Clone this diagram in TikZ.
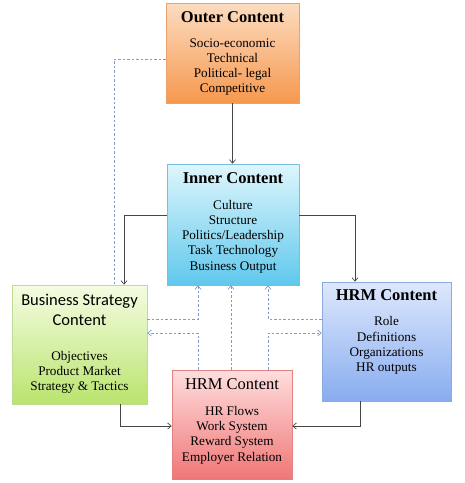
\documentclass[tikz,border=0pt]{standalone}
\usepackage{fontspec}
\setmainfont{Liberation Serif}
\newfontfamily\calfont{Carlito}
\usetikzlibrary{arrows.meta,shadows,calc}
\definecolor{outerT}{RGB}{252,220,192}
\definecolor{outerB}{RGB}{246,152,78}
\definecolor{outerD}{RGB}{236,160,110}
\definecolor{innerT}{RGB}{222,246,252}
\definecolor{innerB}{RGB}{96,200,236}
\definecolor{innerD}{RGB}{120,190,225}
\definecolor{bsT}{RGB}{244,252,226}
\definecolor{bsB}{RGB}{186,228,110}
\definecolor{bsD}{RGB}{190,220,150}
\definecolor{hrT}{RGB}{222,232,252}
\definecolor{hrB}{RGB}{136,172,240}
\definecolor{hrD}{RGB}{140,170,220}
\definecolor{hbT}{RGB}{255,222,222}
\definecolor{hbB}{RGB}{240,118,118}
\definecolor{hbD}{RGB}{225,130,130}
\definecolor{lineC}{RGB}{70,70,70}
\definecolor{dashC}{RGB}{125,155,205}
\begin{document}
\begin{tikzpicture}[x=1pt,y=-1pt,
  box/.style n args={3}{draw=#3, line width=0.6pt, shading=axis, top color=#1, bottom color=#2,
     drop shadow={opacity=0.25, shadow xshift=1pt, shadow yshift=-1pt}, inner sep=0pt},
  ttl/.style={font=\fontsize{16.5}{19}\selectfont\bfseries, align=center},
  ttlr/.style={font=\fontsize{16.5}{19}\selectfont, align=center},
  ttls/.style={font=\calfont\fontsize{16.5}{20}\selectfont, align=center},
  body/.style={font=\fontsize{13.2}{15.3}\selectfont, align=center},
  arr/.style={draw=lineC, line width=0.7pt, -{Straight Barb[length=3.5pt,width=6pt]}},
  dsh/.style={draw=dashC, line width=0.7pt, dash pattern=on 2.5pt off 2pt},
  darr/.style={dsh, -{Straight Barb[length=3.5pt,width=6pt]}}]
\useasboundingbox (0,0) rectangle (465,483);

\node[box={outerT}{outerB}{outerD}, minimum width=133pt, minimum height=100pt] (outer) at (232.5,53) {};
\node[box={innerT}{innerB}{innerD}, minimum width=132pt, minimum height=121pt] (inner) at (233,224.5) {};
\node[box={bsT}{bsB}{bsD}, minimum width=135pt, minimum height=119pt] (bs) at (79.5,344.5) {};
\node[box={hrT}{hrB}{hrD}, minimum width=129pt, minimum height=119pt] (hrmr) at (386.5,341.5) {};
\node[box={hbT}{hbB}{hbD}, minimum width=120pt, minimum height=109pt] (hrmb) at (232,424.5) {};

\node[ttl] (t1) at (232.5,17) {Outer Content};
\node[body] (b1) at (232.5,67) {Socio-economic\\Technical\\Political- legal\\Competitive};
\node[ttl] (t2) at (233,178) {Inner Content};
\node[body] (b2) at (233,236.5) {Culture\\Structure\\Politics/Leadership\\Task Technology\\Business Output};
\node[ttls] (t3) at (79.5,310) {Business Strategy\\Content};
\node[body] (b3) at (79.5,372.5) {Objectives\\Product Market\\Strategy \& Tactics};
\node[ttl] (t4) at (386.5,295) {HRM Content};
\node[body] (b4) at (386.5,345.5) {Role\\Definitions\\Organizations\\HR outputs};
\node[ttlr] (t5) at (232,384) {HRM Content};
\node[body] (b5) at (232,435) {HR Flows\\Work System\\Reward System\\Employer Relation};

% solid connectors
\draw[arr] (outer.south) -- (outer.south |- inner.north);
\draw[arr] ([yshift=9.5pt]inner.west) -| ([xshift=44.5pt]bs.north);
\draw[arr] ([yshift=9.5pt]inner.east) -| ([xshift=-31.5pt]hrmr.north);
\draw[arr] ([xshift=40.5pt]bs.south) |- ([yshift=-1.5pt]hrmb.west);
\draw[arr] ([xshift=-26.5pt]hrmr.south) |- ([yshift=-1.5pt]hrmb.east);

% dashed connectors
\draw[dsh] ([yshift=-6pt]outer.west) -| ([xshift=34.5pt]bs.north);
\draw[darr] ([yshift=25.5pt]bs.east) -| ([xshift=-35pt]inner.south);
\draw[darr] ([xshift=-1pt]hrmb.north) -- ([xshift=-2pt]inner.south);
\draw[darr] ([yshift=22.5pt]hrmr.west) -| ([xshift=35pt]inner.south);
\draw[darr] ([xshift=-34pt]hrmb.north) |- ([yshift=11.5pt]bs.east);
\draw[darr] ([xshift=36pt]hrmb.north) |- ([yshift=8.5pt]hrmr.west);
\end{tikzpicture}
\end{document}
